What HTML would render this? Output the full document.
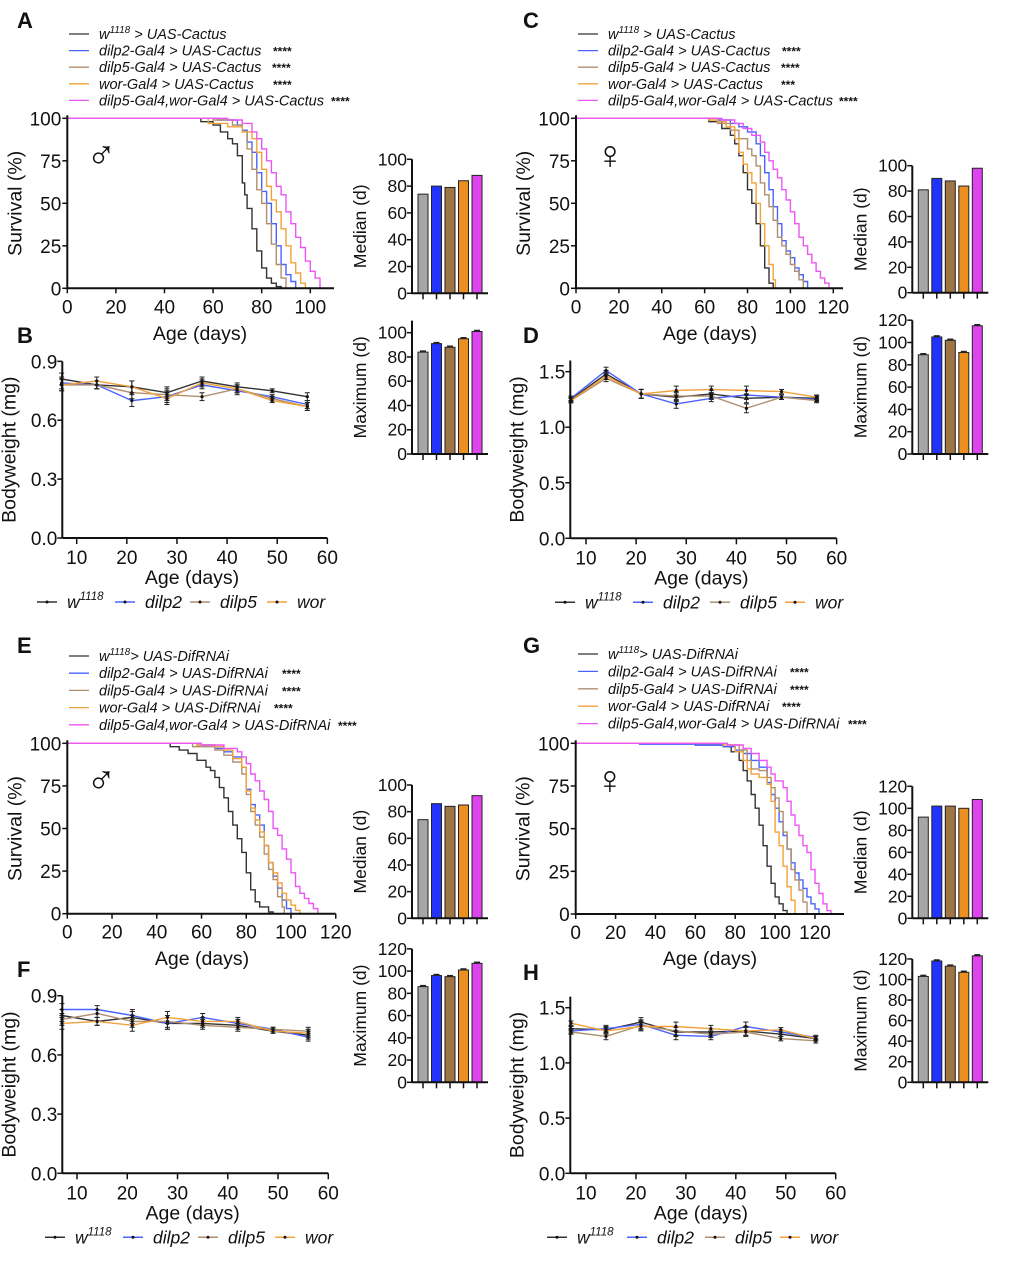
<!DOCTYPE html>
<html><head><meta charset="utf-8"><style>
html,body{margin:0;padding:0;background:#fff;}
svg{display:block;font-family:"Liberation Sans",sans-serif;}
</style></head><body>
<svg id="fig" width="1020" height="1264" viewBox="0 0 1020 1264" xmlns="http://www.w3.org/2000/svg"></svg>
<script>
// ---------- DATA ----------
const groupNames = ['w1118','dilp2','dilp5','wor','dilp5-wor'];
// Panel A survival (male, Cactus)
const A_w_days = [0,44,55,60,63,66,68,70,72,73,74,76,78,80,82,84,86,88];
const A_w_surv = [100,100,98,96,92,88,85,78,62,55,47,35,22,12,6,3,1,0];
const A_d2_days = [0,50,62,70,72,74,76,78,80,82,84,86,88,90,92,94];
const A_d2_surv = [100,100,99,96,93,86,80,68,57,50,38,25,14,8,4,0];
const A_d5_days = [0,48,60,68,72,74,76,78,80,82,84,86,88,90];
const A_d5_surv = [100,100,99,96,92,82,70,58,50,38,26,14,6,0];
const A_wor_days = [0,50,58,66,72,76,78,80,82,84,86,88,90,92,94,96,98];
const A_wor_surv = [100,100,97,95,92,88,80,70,60,52,45,35,25,15,9,3,0];
const A_both_days = [0,55,66,72,76,78,80,82,84,86,88,90,92,94,96,98,100,102,104];
const A_both_surv = [100,100,99,97,92,88,82,75,68,60,55,45,38,30,24,16,10,6,0];
// Panel C survival (female, Cactus)
const C_w_days = [0,52,62,68,72,74,76,78,80,82,84,86,88,90,92];
const C_w_surv = [100,100,98,94,90,85,78,68,58,50,38,25,12,3,0];
const C_d2_days = [0,52,66,72,76,80,84,86,88,90,92,94,96,98,100,102,104,106,108];
const C_d2_surv = [100,100,99,97,95,92,85,78,68,58,48,38,28,22,18,12,8,4,0];
const C_d5_days = [0,55,66,72,76,80,82,84,86,88,90,92,94,96,98,100,102,104,106];
const C_d5_surv = [100,100,97,93,88,82,78,72,62,55,48,40,30,25,20,14,10,5,0];
const C_wor_days = [0,55,62,66,70,74,76,78,80,82,84,86,88,90,92,93];
const C_wor_surv = [100,100,99,98,95,88,80,73,68,62,50,38,25,14,5,0];
const C_both_days = [0,58,68,74,78,82,86,88,90,92,94,96,98,100,102,104,106,108,110,112,114,116,118];
const C_both_surv = [100,100,99,97,94,90,86,80,75,70,65,58,52,45,38,30,25,20,15,10,6,3,0];
// Panel E survival (male, DifRNAi)
const E_w_days = [0,40,46,50,54,58,62,64,66,68,70,72,74,76,78,80,82,84,86,90,92];
const E_w_surv = [100,100,98,96,94,90,86,84,80,74,68,60,52,44,36,24,14,7,4,1,0];
const E_d2_days = [0,48,58,66,70,74,78,80,82,84,86,88,90,92,94,96,98,100];
const E_d2_surv = [100,100,99,97,95,92,86,73,64,58,52,40,30,22,15,8,3,0];
const E_d5_days = [0,48,56,66,70,74,78,80,82,84,86,88,90,92,94,96,97];
const E_d5_surv = [100,100,98,96,93,89,82,70,60,52,45,35,26,20,10,4,0];
const E_wor_days = [0,50,58,66,70,74,78,80,82,84,86,88,90,92,94,96,98,100,102,104];
const E_wor_surv = [100,100,99,98,96,91,86,72,62,55,48,40,30,24,18,12,8,5,2,0];
const E_both_days = [0,50,60,70,76,78,80,82,84,86,88,90,92,94,96,98,100,102,104,106,108,110,112];
const E_both_surv = [100,100,99,97,95,92,88,82,78,72,67,60,50,46,38,32,24,16,12,9,6,3,0];
// Panel G survival (female, DifRNAi)
const G_w_days = [0,30,60,74,78,82,84,86,88,90,92,94,96,98,100,102,104,106];
const G_w_surv = [100,100,99,98,95,90,84,78,70,62,52,40,28,18,10,6,2,0];
const G_d2_days = [0,32,60,74,80,84,88,92,96,98,100,102,104,106,108,110,112,114,116,118,120,122];
const G_d2_surv = [100,99.5,99,98,96,94,90,86,77,70,62,54,46,38,30,24,20,15,10,6,3,0];
const G_d5_days = [0,60,76,82,86,88,92,96,98,100,102,104,106,108,110,112,114,116];
const G_d5_surv = [100,100,99,96,90,85,84,80,74,68,60,48,38,26,20,14,7,0];
const G_wor_days = [0,60,74,80,84,86,88,92,96,98,100,102,104,106,108,110];
const G_wor_surv = [100,100,99,95,90,85,82,80,76,66,48,40,28,16,8,0];
const G_both_days = [0,60,76,84,88,92,96,98,100,104,106,108,110,112,114,116,118,120,122,124,126,128];
const G_both_surv = [100,100,99,97,94,90,86,82,78,74,66,58,52,46,40,36,26,18,12,6,2,0];
// Median / maximum lifespans (days)
const A_median = [74,80,79,84,88];
const A_max = [84,91,88,95,101];
const C_median = [81,90,88,84,98];
const C_max = [89,105,102,91,115];
const E_median = [74,86,84,85,92];
const E_max = [86,96,95,101,107];
const G_median = [92,102,102,100,108];
const G_max = [103,118,113,107,123];
// Bodyweight (mg)
const bwDays = [7,14,21,28,35,42,49,56];
const B_w = [0.81,0.78,0.77,0.74,0.80,0.77,0.75,0.72];
const B_d2 = [0.79,0.78,0.70,0.72,0.78,0.75,0.72,0.68];
const B_d5 = [0.78,0.78,0.74,0.73,0.72,0.76,0.71,0.67];
const B_wor = [0.78,0.80,0.77,0.71,0.79,0.76,0.70,0.67];
const D_w = [1.25,1.48,1.30,1.27,1.30,1.26,1.27,1.26];
const D_d2 = [1.26,1.51,1.30,1.21,1.26,1.29,1.27,1.25];
const D_d5 = [1.24,1.44,1.30,1.28,1.28,1.17,1.27,1.24];
const D_wor = [1.24,1.46,1.30,1.33,1.34,1.33,1.32,1.27];
const F_w = [0.80,0.77,0.79,0.76,0.76,0.75,0.72,0.70];
const F_d2 = [0.83,0.83,0.80,0.76,0.79,0.76,0.73,0.69];
const F_d5 = [0.78,0.81,0.77,0.77,0.75,0.74,0.73,0.72];
const F_wor = [0.76,0.77,0.75,0.79,0.77,0.77,0.72,0.71];
const H_w = [1.31,1.30,1.37,1.28,1.28,1.29,1.26,1.22];
const H_d2 = [1.29,1.31,1.35,1.25,1.24,1.33,1.28,1.23];
const H_d5 = [1.28,1.24,1.34,1.29,1.26,1.28,1.22,1.20];
const H_wor = [1.36,1.29,1.33,1.33,1.31,1.29,1.30,1.22];
const bwErrLight = [0.03,0.02,0.03,0.03,0.02,0.02,0.01,0.02];
const bwErrHeavy = [0.02,0.03,0.04,0.04,0.03,0.04,0.02,0.02];
// Tick labels
const survYTicks = [0,25,50,75,100];
const barTicks100 = [0,20,40,60,80,100];
const barTicks120 = [0,20,40,60,80,100,120];
const bwTicksLight = [0,0.3,0.6,0.9];
const bwTicksHeavy = [0,0.5,1.0,1.5];
const bwXTicks = [10,20,30,40,50,60];

// ---------- DRAWING ----------
const NS = 'http://www.w3.org/2000/svg';
const svg = document.getElementById('fig');
const lineCols = ['#333333','#4a63ff','#b08f6e','#f2a23a','#ee55f5'];
const barCols = ['#a6a6a6','#2233ff','#a07545','#eb9020','#dd44ee'];
function mk(tag, attrs, parent, name){
  const el = document.createElementNS(NS, tag);
  for (const k in attrs) el.setAttribute(k, attrs[k]);
  
  
  (parent||svg).appendChild(el);
  return el;
}
function txt(x,y,s,size,anchor,name,extra){
  const a = Object.assign({x:x,y:y,'font-size':size,'text-anchor':anchor||'start',fill:'#111'}, extra||{});
  const t = mk('text', a, svg, name);
  t.textContent = s;
  return t;
}
function ln(x1,y1,x2,y2,col,w,name){ return mk('line',{x1:x1,y1:y1,x2:x2,y2:y2,stroke:col,'stroke-width':w},svg,name); }

function survival(p){
  const X = d => p.ox + d*p.ppd;
  const Y = s => p.y0 - s*(p.y0-p.y100)/100;
  p.series.forEach((s,i)=>{
    let d = 'M'+X(0)+' '+Y(100);
    for (let k=1;k<s[0].length;k++){ d += ' H'+X(s[0][k]).toFixed(1)+' V'+Y(s[1][k]).toFixed(1); }
    mk('path',{d:d,fill:'none',stroke:lineCols[i],'stroke-width':1.4},svg,p.id+'-curve-'+groupNames[i]);
  });
  ln(p.ox,p.y100-3,p.ox,p.y0,'#111',2,p.id+'-y-axis');
  ln(p.ox,p.y0,p.xEnd,p.y0,'#111',2,p.id+'-x-axis');
  survYTicks.forEach(v=>{ ln(p.ox-5,Y(v),p.ox,Y(v),'#111',1.5,'y-tick'); txt(p.ox-6,Y(v)+7,String(v),19,'end','y-tick-label'); });
  p.xt.forEach(v=>{ ln(X(v),p.y0,X(v),p.y0+5,'#111',1.5,'x-tick'); txt(X(v),p.y0+25,String(v),19,'middle','x-tick-label'); });
  const yt = txt(0,0,'Survival (%)',19.5,'middle',p.id+'-y-axis-title');
  yt.setAttribute('transform','translate('+(p.ox-46)+','+((p.y0+p.y100)/2)+') rotate(-90)');
  txt(p.titleX,p.titleY,'Age (days)',19.5,'middle',p.id+'-x-axis-title');
  txt(p.ox+34,(p.y100+50),p.sex,40,'middle',p.id+'-sex-symbol');
}

function bars(p){
  const Y = v => p.y0 - v*p.ppu;
  p.vals.forEach((v,i)=>{
    const x = p.ax + 6 + i*13.5;
    mk('rect',{x:x,y:Y(v),width:10,height:p.y0-Y(v),fill:barCols[i],stroke:'#222','stroke-width':1},svg,p.id+'-bar-'+groupNames[i]);
    if (p.err){ ln(x+2,Y(v)-1,x+8,Y(v)-1,'#222',1.5,'error-cap'); }
    ln(x+5,p.y0,x+5,p.y0+6,'#111',1.5,'x-tick');
  });
  ln(p.ax,Y(p.top),p.ax,p.y0,'#111',2,p.id+'-y-axis');
  ln(p.ax,p.y0,p.ax+76,p.y0,'#111',2,p.id+'-x-axis');
  p.ticks.forEach(v=>{ ln(p.ax-5,Y(v),p.ax,Y(v),'#111',1.5,'y-tick'); txt(p.ax-5,Y(v)+6,String(v),17.5,'end','y-tick-label'); });
  const t = txt(0,0,p.title,17.5,'middle',p.id+'-y-axis-title');
  t.setAttribute('transform','translate('+(p.ax-46)+','+(p.y0-(p.y0-Y(p.top))/2)+') rotate(-90)');
}

function bodyweight(p){
  const X = d => p.x10 + (d-10)*p.ppd;
  const Y = v => p.y0 - v*p.ppu;
  p.series.forEach((s,i)=>{
    const pts = bwDays.map((d,k)=>X(d).toFixed(1)+','+Y(s[k]).toFixed(1)).join(' ');
    mk('polyline',{points:pts,fill:'none',stroke:lineCols[i],'stroke-width':1.4},svg,p.id+'-line-'+groupNames[i]);
    bwDays.forEach((d,k)=>{
      const e = p.err[k];
      ln(X(d),Y(s[k]+e),X(d),Y(s[k]-e),'#222',1,'error-bar');
      ln(X(d)-2.5,Y(s[k]+e),X(d)+2.5,Y(s[k]+e),'#222',1,'error-cap');
      ln(X(d)-2.5,Y(s[k]-e),X(d)+2.5,Y(s[k]-e),'#222',1,'error-cap');
      mk('circle',{cx:X(d),cy:Y(s[k]),r:1.6,fill:'#111'},svg,'data-point');
    });
  });
  ln(p.ax,Y(p.top),p.ax,p.y0,'#111',2,p.id+'-y-axis');
  ln(p.ax,p.y0,X(60),p.y0,'#111',2,p.id+'-x-axis');
  p.ticks.forEach(v=>{ ln(p.ax-5,Y(v),p.ax,Y(v),'#111',1.5,'y-tick'); txt(p.ax-5,Y(v)+7,v.toFixed(1),19,'end','y-tick-label'); });
  bwXTicks.forEach(v=>{ ln(X(v),p.y0,X(v),p.y0+6,'#111',1.5,'x-tick'); txt(X(v),p.y0+26,String(v),19,'middle','x-tick-label'); });
  const t = txt(0,0,'Bodyweight (mg)',19.5,'middle',p.id+'-y-axis-title');
  t.setAttribute('transform','translate('+(p.ax-47)+','+((p.y0+Y(p.top))/2)+') rotate(-90)');
  txt(X(35)-10,p.y0+46,'Age (days)',19.5,'middle',p.id+'-x-axis-title');
  // bottom legend
  const labs = ['w','dilp2','dilp5','wor'];
  const ly = p.y0+64;
  p.legX.forEach((lx,i)=>{
    ln(lx,ly,lx+20,ly,lineCols[i],1.5,'legend-line');
    mk('circle',{cx:lx+10,cy:ly,r:1.5,fill:'#111'},svg,'legend-marker');
    const t2 = txt(lx+30,ly+6,labs[i],17.5,'start','legend-entry-'+labs[i],{'font-style':'italic'});
    if(i===0){ const sp = mk('tspan',{'font-size':11.5,dy:-8},t2,'superscript'); sp.textContent='1118'; }
  });
}

function topLegend(x,rows,y0,dy,suffix,stars,starX){
  const labs = ['w','dilp2-Gal4 > '+suffix,'dilp5-Gal4 > '+suffix,'wor-Gal4 > '+suffix,'dilp5-Gal4,wor-Gal4 > '+suffix];
  labs.forEach((s,i)=>{
    const y = y0+i*dy;
    ln(x,y,x+20,y,lineCols[i],1.3,'legend-line');
    const t = txt(x+30,y+5,'',14.5,'start','legend-entry',{'font-style':'italic'});
    if(i===0){
      const a = mk('tspan',{},t,'legend-text'); a.textContent='w';
      const b = mk('tspan',{'font-size':10,dy:-6},t,'superscript'); b.textContent='1118';
      const c = mk('tspan',{dy:6},t,'legend-text'); c.textContent=rows+suffix;
    } else { t.textContent = s; }
    if(stars[i]) txt(starX[i],y+5,stars[i],12,'start','significance-stars',{'font-weight':'bold'});
  });
}
function letter(x,y,s){ txt(x,y,s,22,'start','panel-label-'+s,{'font-weight':'bold'}); }

// Panel letters
letter(17,28,'A'); letter(17,343,'B'); letter(523,28,'C'); letter(523,343,'D');
letter(17,653,'E'); letter(17,977,'F'); letter(523,653,'G'); letter(523,980,'H');

// Top legends
topLegend(69,' > ',34,16.6,'UAS-Cactus',['','****','****','****','****'],[0,273,272,273,331]);
topLegend(578,' > ',34,16.6,'UAS-Cactus',['','****','****','***','****'],[0,782,781,781,839]);
topLegend(69,'> ',656,17.2,'UAS-DifRNAi',['','****','****','****','****'],[0,282,282,274,338]);
topLegend(578,'> ',654,17.4,'UAS-DifRNAi',['','****','****','****','****'],[0,790,790,782,848]);

// Survival panels
survival({id:'panel-a',ox:67.3,ppd:2.43,xEnd:334,y100:118.3,y0:288.3,xt:[0,20,40,60,80,100],titleX:200,titleY:340,sex:'♂',
  series:[[A_w_days,A_w_surv],[A_d2_days,A_d2_surv],[A_d5_days,A_d5_surv],[A_wor_days,A_wor_surv],[A_both_days,A_both_surv]]});
survival({id:'panel-c',ox:576,ppd:2.144,xEnd:843,y100:118.3,y0:288.3,xt:[0,20,40,60,80,100,120],titleX:710,titleY:340,sex:'♀',
  series:[[C_w_days,C_w_surv],[C_d2_days,C_d2_surv],[C_d5_days,C_d5_surv],[C_wor_days,C_wor_surv],[C_both_days,C_both_surv]]});
survival({id:'panel-e',ox:67.3,ppd:2.237,xEnd:335.7,y100:743.3,y0:913.7,xt:[0,20,40,60,80,100,120],titleX:202,titleY:965,sex:'♂',
  series:[[E_w_days,E_w_surv],[E_d2_days,E_d2_surv],[E_d5_days,E_d5_surv],[E_wor_days,E_wor_surv],[E_both_days,E_both_surv]]});
survival({id:'panel-g',ox:575.7,ppd:1.994,xEnd:844,y100:743.3,y0:914,xt:[0,20,40,60,80,100,120],titleX:710,titleY:965,sex:'♀',
  series:[[G_w_days,G_w_surv],[G_d2_days,G_d2_surv],[G_d5_days,G_d5_surv],[G_wor_days,G_wor_surv],[G_both_days,G_both_surv]]});

// Bar panels
bars({id:'median-a',ax:412,y0:293.3,ppu:1.34,top:100,ticks:barTicks100,vals:A_median,title:'Median (d)'});
bars({id:'max-a',ax:412,y0:454,ppu:1.213,top:110,ticks:barTicks100,vals:A_max,title:'Maximum (d)',err:true});
bars({id:'median-c',ax:912.3,y0:292.7,ppu:1.27,top:100,ticks:barTicks100,vals:C_median,title:'Median (d)'});
bars({id:'max-c',ax:912.3,y0:454,ppu:1.115,top:120,ticks:barTicks120,vals:C_max,title:'Maximum (d)',err:true});
bars({id:'median-e',ax:412,y0:918.3,ppu:1.333,top:100,ticks:barTicks100,vals:E_median,title:'Median (d)'});
bars({id:'max-e',ax:412,y0:1082.3,ppu:1.112,top:120,ticks:barTicks120,vals:E_max,title:'Maximum (d)',err:true});
bars({id:'median-g',ax:912.3,y0:918.3,ppu:1.10,top:120,ticks:barTicks120,vals:G_median,title:'Median (d)'});
bars({id:'max-g',ax:912.3,y0:1082.3,ppu:1.028,top:120,ticks:barTicks120,vals:G_max,title:'Maximum (d)',err:true});

// Bodyweight panels
bodyweight({id:'panel-b',ax:62.3,x10:76.7,ppd:5.013,y0:538,ppu:196.3,top:0.9,ticks:bwTicksLight,err:bwErrLight,
  series:[B_w,B_d2,B_d5,B_wor],legX:[37,115,190,267]});
bodyweight({id:'panel-d',ax:570.3,x10:586,ppd:5.013,y0:538.3,ppu:111.1,top:1.6,ticks:bwTicksHeavy,err:bwErrHeavy,
  series:[D_w,D_d2,D_d5,D_wor],legX:[555,633,710,785]});
bodyweight({id:'panel-f',ax:62.3,x10:77,ppd:5.026,y0:1173.3,ppu:197.3,top:0.9,ticks:bwTicksLight,err:bwErrLight,
  series:[F_w,F_d2,F_d5,F_wor],legX:[45,123,198,275]});
bodyweight({id:'panel-h',ax:570.3,x10:586,ppd:4.994,y0:1173.3,ppu:110.4,top:1.6,ticks:bwTicksHeavy,err:bwErrHeavy,
  series:[H_w,H_d2,H_d5,H_wor],legX:[547,627,705,780]});
</script>
</body></html>
